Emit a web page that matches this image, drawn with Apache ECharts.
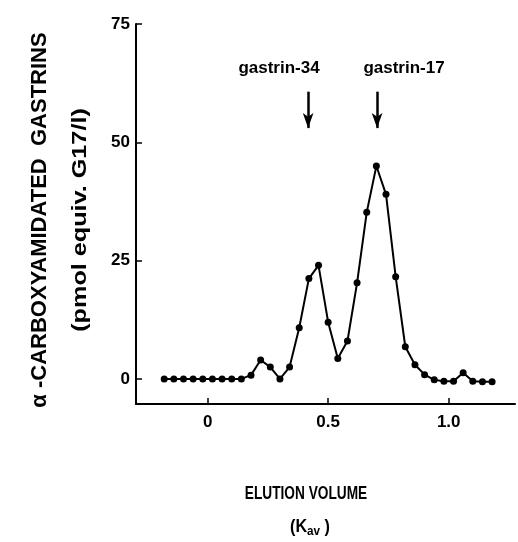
<!DOCTYPE html>
<html>
<head>
<meta charset="utf-8">
<script src="https://cdn.jsdelivr.net/npm/echarts@6/dist/echarts.min.js"></script>
<style>
html,body{margin:0;padding:0;background:#fff;}
#chart{width:518px;height:542px;}
</style>
</head>
<body>
<div id="chart"></div>
<script>
// Elution volume (Kav) of each fraction
var kav = [-0.18,-0.14,-0.10,-0.06,-0.02,0.02,0.06,0.10,0.14,0.18,0.22,0.26,0.30,0.34,0.38,0.42,0.46,0.50,0.54,0.58,0.62,0.66,0.70,0.74,0.78,0.82,0.86,0.90,0.94,0.98,1.02,1.06,1.10,1.14,1.18];
// alpha-carboxyamidated gastrins (pmol equiv. G17/l)
var conc = [0,0,0,0,0,0,0,0,0,0.8,4.0,2.5,0,2.5,10.8,21.2,24.0,12.0,4.3,8.0,20.3,35.2,45.0,39.0,21.6,6.8,3.0,0.9,-0.2,-0.5,-0.5,1.3,-0.5,-0.6,-0.6];
var yTicks = [0,25,50,75];
var xTicks = [0,0.5,1.0];
var xTickLabels = ['0','0.5','1.0'];
var markers = [{name:'gastrin-34', kav:0.417}, {name:'gastrin-17', kav:0.703}];
var arrowTop = 60.7, arrowTip = 53;

var FONT = '"Liberation Sans", Arial, sans-serif';
var points = kav.map(function(k,i){return [k, conc[i]];});

var chart = echarts.init(document.getElementById('chart'));
chart.setOption({
  animation:false,
  backgroundColor:'#fff',
  grid:{left:136, right:3, top:24, bottom:138, containLabel:false},
  xAxis:{
    type:'value', min:-0.297, max:1.275,
    axisLine:{show:true, onZero:false, lineStyle:{color:'#000', width:2}},
    axisTick:{show:true, inside:true, length:6, lineStyle:{color:'#000', width:1.5}, customValues:xTicks},
    axisLabel:{show:true, customValues:xTicks, margin:10, color:'#000', fontFamily:FONT, fontWeight:'bold', fontSize:17,
      formatter:function(v){var i=xTicks.indexOf(v); return i>=0?xTickLabels[i]:'';}},
    splitLine:{show:false}
  },
  yAxis:{
    type:'value', min:-5.3, max:75,
    axisLine:{show:true, onZero:false, lineStyle:{color:'#000', width:2}},
    axisTick:{show:true, inside:true, length:6, lineStyle:{color:'#000', width:1.5}, customValues:yTicks},
    axisLabel:{show:true, customValues:yTicks, margin:6, color:'#000', fontFamily:FONT, fontWeight:'bold', fontSize:17},
    splitLine:{show:false}
  },
  series:[{
    type:'line', data:points,
    symbol:'circle', symbolSize:7,
    itemStyle:{color:'#000'},
    lineStyle:{color:'#000', width:2},
    markLine:{
      silent:true, symbol:['none','arrow'], symbolSize:[8,15],
      lineStyle:{color:'#000', width:2.5, type:'solid'},
      label:{show:false},
      data: markers.map(function(m){return [{coord:[m.kav, arrowTop]},{coord:[m.kav, arrowTip]}];})
    }
  }],
  graphic:[
    {type:'text', x:279, y:68, style:{text:markers[0].name, fill:'#000', font:'bold 17px '+FONT, textAlign:'center', textVerticalAlign:'middle'}},
    {type:'text', x:404, y:68, style:{text:markers[1].name, fill:'#000', font:'bold 17px '+FONT, textAlign:'center', textVerticalAlign:'middle'}},
    {type:'text', x:40, y:220, rotation:Math.PI/2, style:{text:'α -CARBOXYAMIDATED  GASTRINS', fill:'#000', font:'bold 22px '+FONT, textAlign:'center', textVerticalAlign:'middle'}},
    {type:'text', x:80, y:220, rotation:Math.PI/2, scaleX:1.2, style:{text:'(pmol equiv. G17/l)', fill:'#000', font:'bold 21px '+FONT, textAlign:'center', textVerticalAlign:'middle'}},
    {type:'text', x:306, y:494, scaleX:0.72, style:{text:'ELUTION VOLUME', fill:'#000', font:'bold 19px '+FONT, textAlign:'center', textVerticalAlign:'middle'}},
    {type:'text', x:310, y:527, scaleX:0.9, style:{text:'{a|(K}{s|av}{a| )}', textAlign:'center', textVerticalAlign:'middle',
      rich:{a:{fill:'#000', font:'bold 18px '+FONT}, s:{fill:'#000', font:'bold 13px '+FONT, padding:[9,0,0,0]}}}}
  ]
});
</script>
</body>
</html>
